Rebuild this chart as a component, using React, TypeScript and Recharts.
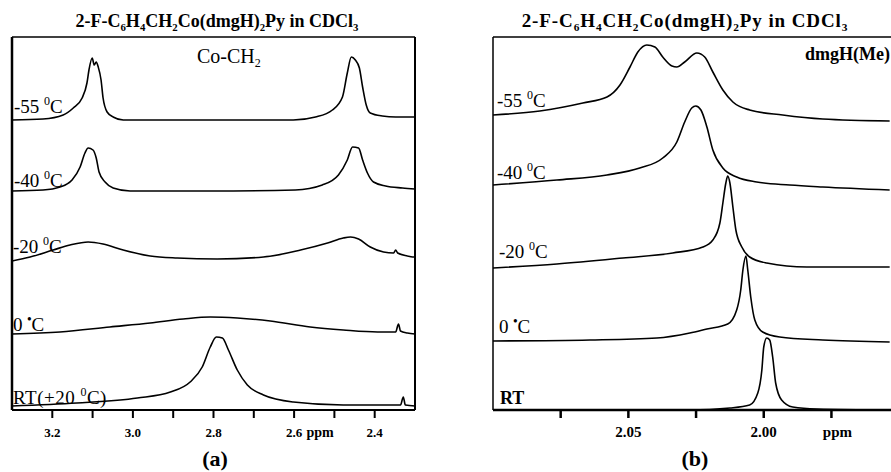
import React from 'react'
import { LineChart, Line, XAxis, YAxis, ReferenceLine } from 'recharts'

// (a) Co-CH2 region, ppm / intensity above each baseline
const A_M55_PPM = [3.3, 3.223, 3.173, 3.148, 3.126, 3.114, 3.109, 3.101, 3.096, 3.091, 3.086, 3.079, 3.074, 3.064, 3.049, 3.024, 2.808, 2.602, 2.547, 2.505, 2.48, 2.468, 2.458, 2.448, 2.438, 2.43, 2.421, 2.411, 2.381, 2.348, 2.3]
const A_M55_INT = [0, 1, 5, 12, 22, 37, 50, 62, 55, 58, 53, 40, 22, 8, 3, 0, 0, 0, 3, 10, 23, 47, 63, 60, 52, 33, 15, 7, 4, 3, 3]

const A_M40_PPM = [3.3, 3.223, 3.181, 3.151, 3.131, 3.119, 3.111, 3.099, 3.091, 3.084, 3.069, 3.049, 3.007, 2.808, 2.597, 2.53, 2.49, 2.468, 2.455, 2.44, 2.43, 2.418, 2.403, 2.373, 2.331, 2.3]
const A_M40_INT = [0, 1, 4, 11, 24, 38, 43, 41, 33, 19, 9, 3, 0, 0, 1, 6, 16, 31, 44, 43, 31, 18, 9, 5, 3, 2]

const A_M20_PPM = [3.3, 3.255, 3.198, 3.156, 3.111, 3.074, 3.024, 2.957, 2.89, 2.791, 2.676, 2.584, 2.517, 2.478, 2.46, 2.44, 2.411, 2.378, 2.353, 2.348, 2.343, 2.319, 2.306, 2.3]
const A_M20_INT = [0, 4, 11, 16, 19, 17, 11, 5, 3, 2, 4, 11, 18, 23, 24, 22, 14, 9, 8, 11, 8, 5, 4, 4]

const A_0_PPM = [3.3, 3.181, 3.057, 2.957, 2.875, 2.808, 2.741, 2.659, 2.56, 2.478, 2.393, 2.348, 2.341, 2.336, 2.319, 2.3]
const A_0_INT = [0, 2, 7, 11, 15, 17, 16, 13, 7, 4, 2, 2, 10, 3, 1, 0]

const A_RT_PPM = [3.3, 3.139, 2.989, 2.907, 2.858, 2.828, 2.808, 2.793, 2.778, 2.763, 2.741, 2.716, 2.676, 2.602, 2.478, 2.336, 2.329, 2.324, 2.3]
const A_RT_INT = [0, 3, 8, 14, 24, 39, 59, 69, 68, 56, 36, 21, 11, 4, 1, 1, 9, 1, 0]

// (b) dmgH(Me) region
const B_M55_PPM = [2.1, 2.0827, 2.0668, 2.0579, 2.0531, 2.0494, 2.0465, 2.0432, 2.0402, 2.0373, 2.0339, 2.0321, 2.0292, 2.0247, 2.0218, 2.0188, 2.0151, 2.0114, 2.0052, 1.993, 1.9782, 1.9535]
const B_M55_INT = [0, 4, 12, 18, 30, 48, 63, 70, 68, 58, 49, 48, 53, 62, 58, 43, 25, 13, 5, 0, -4, -6]

const B_M40_PPM = [2.1, 2.0764, 2.0579, 2.0458, 2.0373, 2.0321, 2.0292, 2.0266, 2.0251, 2.0232, 2.021, 2.0188, 2.0151, 2.01, 2.0026, 1.9904, 1.9782, 1.9535]
const B_M40_INT = [0, 5, 10, 17, 27, 43, 63, 77, 79, 75, 58, 35, 17, 8, 3, 0, -2, -5]

const B_M20_PPM = [2.1, 2.0764, 2.052, 2.0336, 2.0225, 2.0188, 2.0162, 2.0151, 2.014, 2.0133, 2.0125, 2.0114, 2.0103, 2.0081, 2.0052, 1.9989, 1.9841, 1.9535]
const B_M20_INT = [0, 4, 10, 15, 21, 28, 45, 65, 85, 92, 85, 61, 38, 21, 11, 5, 1, 1]

const B_0_PPM = [2.1, 2.0642, 2.0395, 2.0273, 2.021, 2.0133, 2.01, 2.0085, 2.0077, 2.0066, 2.0059, 2.0048, 2.0033, 2.0004, 1.9941, 1.9782, 1.9535]
const B_0_INT = [0, 1, 3, 8, 12, 17, 31, 51, 71, 85, 71, 44, 21, 9, 4, 1, -1]

const B_RT_PPM = [2.1, 2.0273, 2.0125, 2.0052, 2.0022, 2.0007, 2.0, 1.9989, 1.9978, 1.9967, 1.9956, 1.9934, 1.9893, 1.9804, 1.9535]
const B_RT_INT = [0, 0, 2, 5, 17, 40, 63, 72, 70, 53, 27, 10, 3, 1, 0]

const A_TICKS = [3.2, 3.1, 3.0, 2.9, 2.8, 2.7, 2.6, 2.5, 2.4]
const A_LABELS: Record<string, string> = { '3.2': '3.2', '3': '3.0', '2.8': '2.8', '2.6': '2.6', '2.4': '2.4' }
const B_TICKS = [2.075, 2.05, 2.025, 2.0, 1.975]
const B_LABELS: Record<string, string> = { '2.05': '2.05', '2': '2.00', '1.975': 'ppm' }

const SERIF = '"Liberation Serif", "DejaVu Serif", serif'

const build = (ppm: number[], ints: number[], base: number) =>
  ppm.map((p, i) => ({ ppm: p, v: base + ints[i] }))

const A_BASE = [290, 219, 149, 76, 4]
const B_BASE = [295, 225, 142, 69, 0]

const aSeries = [
  build(A_M55_PPM, A_M55_INT, A_BASE[0]),
  build(A_M40_PPM, A_M40_INT, A_BASE[1]),
  build(A_M20_PPM, A_M20_INT, A_BASE[2]),
  build(A_0_PPM, A_0_INT, A_BASE[3]),
  build(A_RT_PPM, A_RT_INT, A_BASE[4]),
]
const bSeries = [
  build(B_M55_PPM, B_M55_INT, B_BASE[0]),
  build(B_M40_PPM, B_M40_INT, B_BASE[1]),
  build(B_M20_PPM, B_M20_INT, B_BASE[2]),
  build(B_0_PPM, B_0_INT, B_BASE[3]),
  build(B_RT_PPM, B_RT_INT, B_BASE[4]),
]

const makeTick = (labels: Record<string, string>, size: number, shift: Record<string, number> = {}) =>
  (props: any) => {
    const { x, y, payload } = props
    const key = String(payload.value)
    const label = labels[key]
    if (!label) return <g />
    return (
      <text x={x + (shift[key] || 0)} y={y + 17} textAnchor="middle" fontFamily={SERIF}
        fontSize={size} fontWeight="bold" fill="#000">
        {label}
      </text>
    )
  }

function Temp({ x, y, t, bold }: { x: number; y: number; t: string; bold?: boolean }) {
  return (
    <text x={x} y={y} fontFamily={SERIF} fontSize={19} fill="#000">
      {t} <tspan dy={-8} fontSize={12} fontWeight={bold ? 'bold' : 'normal'}>{bold ? '•' : '0'}</tspan>
      <tspan dy={8}>C</tspan>
    </text>
  )
}

function Title({ x, y, size, spacing }: { x: number; y: number; size: number; spacing: number }) {
  const parts: [string, string][] = [
    ['2-F-C', '6'], ['H', '4'], ['CH', '2'], ['Co(dmgH)', '2'], ['Py in CDCl', '3'],
  ]
  return (
    <text x={x} y={y} textAnchor="middle" fontFamily={SERIF} fontSize={size} fontWeight="bold"
      letterSpacing={spacing} fill="#000">
      {parts.map(([a, s], i) => (
        <React.Fragment key={i}>
          <tspan dy={i === 0 ? 0 : -4}>{a}</tspan>
          <tspan dy={4} fontSize={size * 0.6}>{s}</tspan>
        </React.Fragment>
      ))}
    </text>
  )
}

export default function App() {
  return (
    <div style={{ position: 'absolute', left: 0, top: 0, width: 891, height: 472, background: '#fff' }}>
      <div style={{ position: 'absolute', left: 0, top: 0 }}>
        <LineChart width={440} height={472} margin={{ top: 37, left: 12, right: 25, bottom: 32 }}>
          <XAxis dataKey="ppm" type="number" domain={[2.3, 3.3]} reversed allowDataOverflow
            ticks={A_TICKS} interval={0} tickSize={8} height={30}
            stroke="#000" strokeWidth={2} tick={makeTick(A_LABELS, 13)} />
          <YAxis type="number" domain={[0, 373]} hide allowDataOverflow />
          <ReferenceLine y={373} stroke="#000" strokeWidth={1.5} />
          <ReferenceLine x={3.3} stroke="#000" strokeWidth={2.5} />
          <ReferenceLine x={2.3} stroke="#000" strokeWidth={2} />
          {aSeries.map((d, i) => (
            <Line key={i} data={d} dataKey="v" type="monotone" stroke="#000" strokeWidth={1.6}
              dot={false} isAnimationActive={false} />
          ))}
        </LineChart>
      </div>
      <div style={{ position: 'absolute', left: 440, top: 0 }}>
        <LineChart width={451} height={472} margin={{ top: 37, left: 48, right: 0, bottom: 32 }}>
          <XAxis dataKey="ppm" type="number" domain={[1.953, 2.1]} reversed allowDataOverflow
            ticks={B_TICKS} interval={0} tickSize={8} height={30}
            stroke="#000" strokeWidth={2.5} tick={makeTick(B_LABELS, 15, { '1.975': 6 })} />
          <YAxis type="number" domain={[0, 373]} ticks={B_BASE} width={5} tickSize={4}
            stroke="#000" strokeWidth={1.5} tick={false} allowDataOverflow />
          <ReferenceLine y={373} stroke="#000" strokeWidth={1.5} />
          {bSeries.map((d, i) => (
            <Line key={i} data={d} dataKey="v" type="monotone" stroke="#000" strokeWidth={1.6}
              dot={false} isAnimationActive={false} />
          ))}
        </LineChart>
      </div>
      <svg width={891} height={472} style={{ position: 'absolute', left: 0, top: 0, pointerEvents: 'none' }}>
        <Title x={217} y={27} size={18} spacing={0} />
        <Title x={685} y={27} size={19} spacing={0.9} />
        <text x={197} y={63} fontFamily={SERIF} fontSize={20} fill="#000">
          Co-CH<tspan dy={4} fontSize={12}>2</tspan>
        </text>
        <text x={805} y={60} fontFamily={SERIF} fontSize={18} fontWeight="bold" fill="#000">dmgH(Me)</text>
        <Temp x={14} y={113} t="-55" />
        <Temp x={14} y={187} t="-40" />
        <Temp x={13} y={253} t="-20" />
        <Temp x={13} y={331} t="0" bold />
        <text x={13} y={404} fontFamily={SERIF} fontSize={19} fill="#000" letterSpacing={0.5}>
          RT(+20 <tspan dy={-8} fontSize={12}>0</tspan><tspan dy={8}>C)</tspan>
        </text>
        <Temp x={497} y={107} t="-55" />
        <Temp x={497} y={179} t="-40" />
        <Temp x={499} y={258} t="-20" />
        <Temp x={499} y={333} t="0" bold />
        <text x={500} y={404} fontFamily={SERIF} fontSize={18} fontWeight="bold" fill="#000">RT</text>
        <text x={320} y={437} textAnchor="middle" fontFamily={SERIF} fontSize={14} fontWeight="bold" fill="#000">ppm</text>
        <text x={215} y={466} textAnchor="middle" fontFamily={SERIF} fontSize={22} fontWeight="bold" fill="#000">(a)</text>
        <text x={695} y={466} textAnchor="middle" fontFamily={SERIF} fontSize={22} fontWeight="bold" fill="#000">(b)</text>
      </svg>
    </div>
  )
}
